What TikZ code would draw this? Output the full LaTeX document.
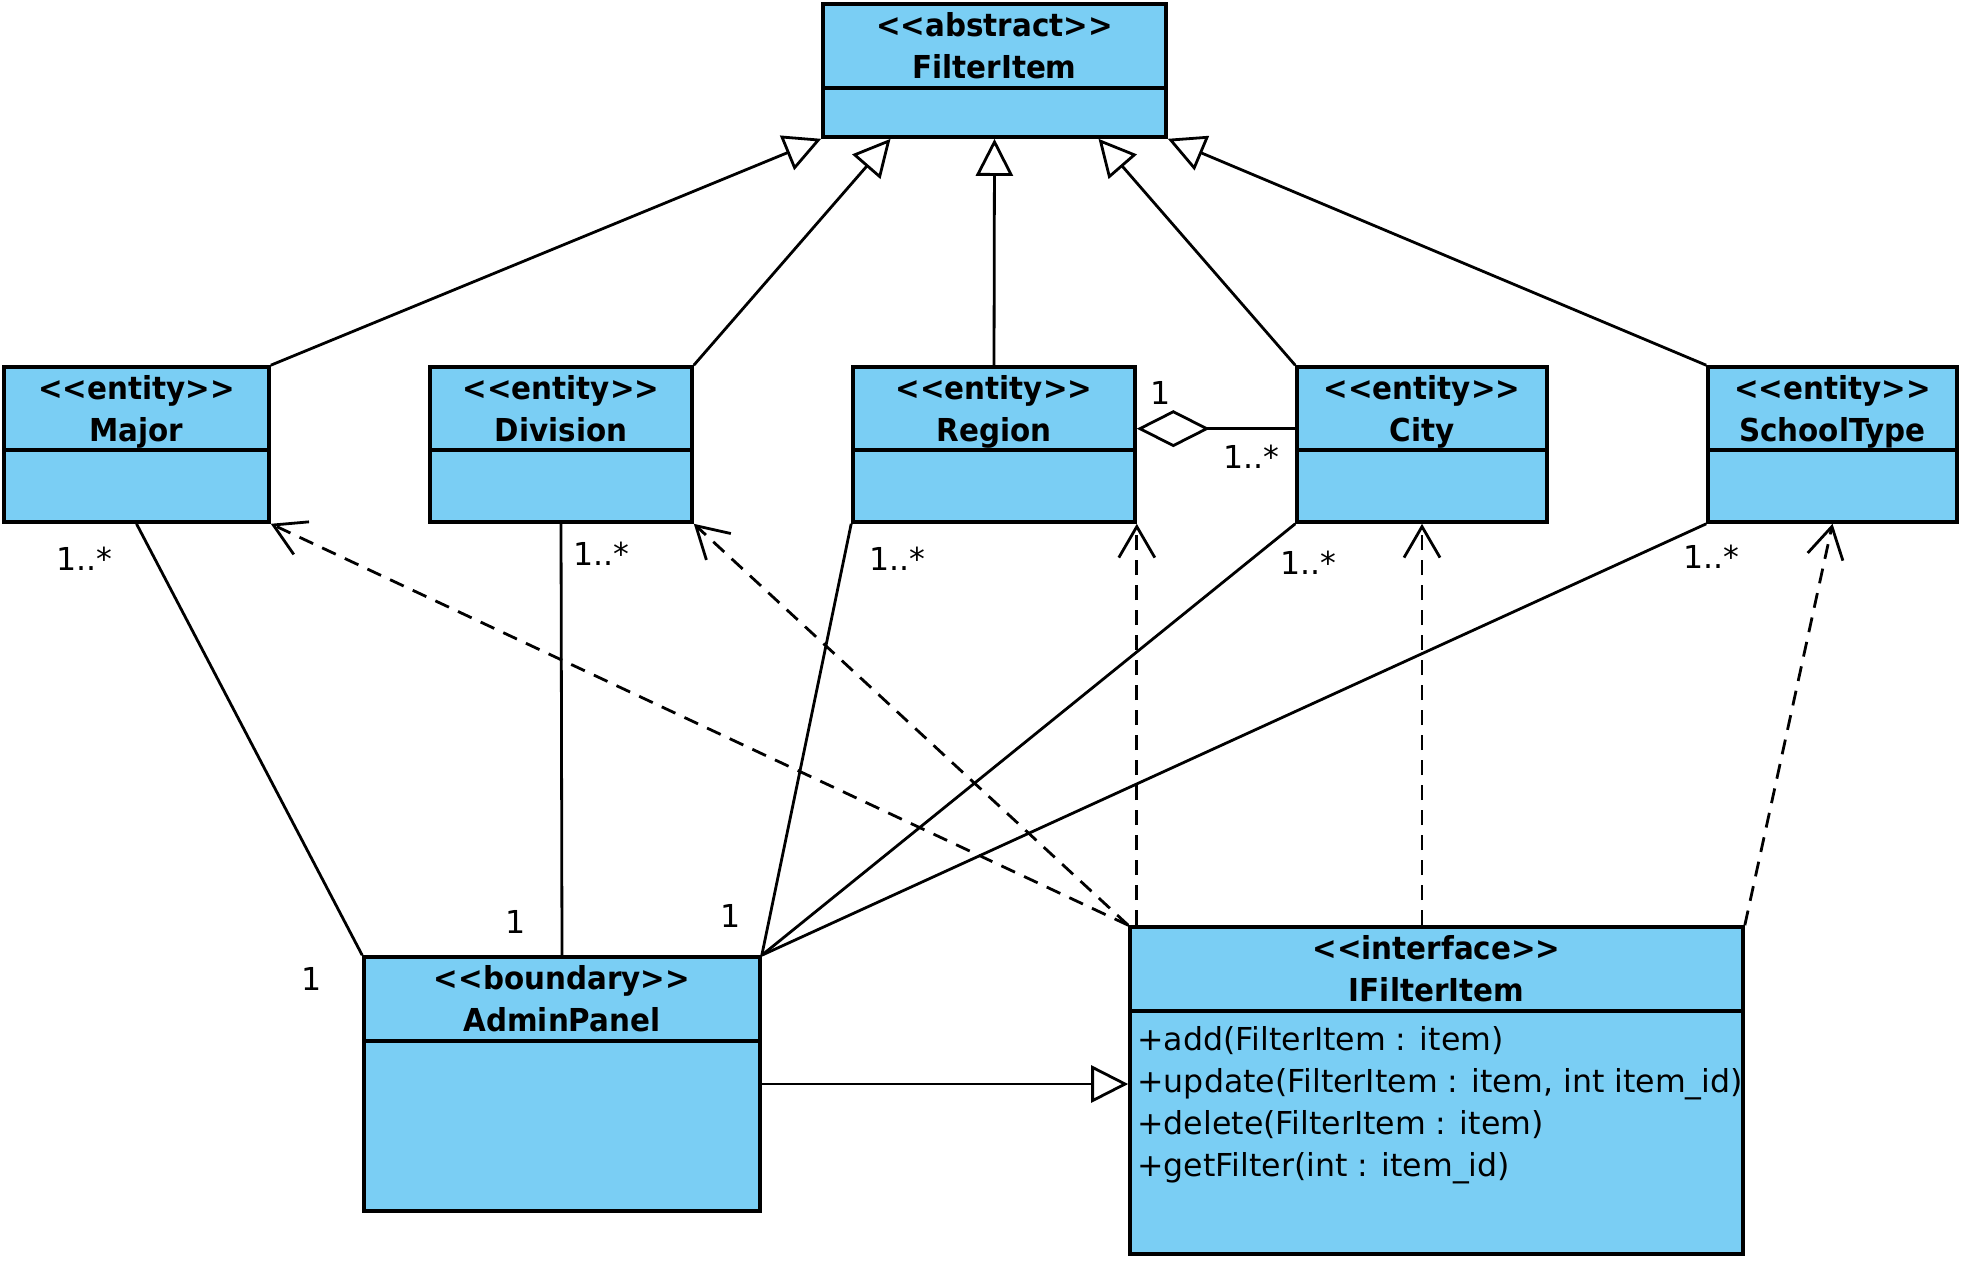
\documentclass[tikz,border=0pt]{standalone}
\usepackage{fontspec}
\setmainfont{DejaVu Sans}[BoldFeatures={FakeStretch=0.93}]
\usepackage{tikz}
\usetikzlibrary{calc}
\usetikzlibrary{arrows.meta}
\usetikzlibrary{fit}
\usetikzlibrary{positioning}

\definecolor{classblue}{RGB}{122,206,244}

\tikzset{
  classbox/.style={draw, line width=1.8pt, fill=classblue, inner sep=0pt},
  stereo/.style={anchor=base, inner sep=0pt, font=\fontsize{15.8}{18}\selectfont\bfseries},
  classname/.style={anchor=base, inner sep=0pt, font=\fontsize{15.8}{18}\selectfont\bfseries},
  method/.style={anchor=base west, inner sep=0pt, font=\fontsize{15.8}{18}\selectfont},
  mult/.style={inner sep=0pt, font=\fontsize{15.8}{18}\selectfont},
  gen/.style={line width=1.4pt, -{Triangle[open, length=18.5pt, width=18.5pt]}},
  dep/.style={line width=1.4pt, dash pattern=on 7.5pt off 5pt, -{Straight Barb[length=15.5pt, width=18pt]}},
  assoc/.style={line width=1.4pt},
  aggr/.style={line width=1.4pt, -{Diamond[open, length=36.5pt, width=18.5pt]}}
}

% name, x1, y1, x2, y2, divider, stereotype, class name
\newcommand{\umlclass}[8]{%
  \node[classbox, fit={(#2,#3) (#4,#5)}] (#1) {};
  \draw[line width=1.8pt] (#2,#6) -- (#4,#6);
  \node[stereo] (#1-st) at ($(#1.north)+(0,34)$) {<{}<#7>{}>};
  \node[classname] (#1-nm) at ($(#1.north)+(0,76)$) {#8};
}

\begin{document}
\begin{tikzpicture}[x=0.5pt, y=-0.5pt]
  \useasboundingbox (0,0) rectangle (1962,1260);

  % classes
  \umlclass{filteritem}{823}{4}{1166}{137}{88}{abstract}{FilterItem}
  \umlclass{major}{4}{367}{269}{522}{450}{entity}{Major}
  \umlclass{division}{430}{367}{692}{522}{450}{entity}{Division}
  \umlclass{region}{853}{367}{1135}{522}{450}{entity}{Region}
  \umlclass{city}{1297}{367}{1547}{522}{450}{entity}{City}
  \umlclass{schooltype}{1708}{367}{1957}{522}{450}{entity}{SchoolType}
  \umlclass{admin}{364}{957}{760}{1211}{1041}{boundary}{AdminPanel}
  \umlclass{ifilter}{1130}{927}{1743}{1254}{1011}{interface}{IFilterItem}

  \node[method] (op-add) at (1137,1050) {+add(FilterItem : item)};
  \node[method] (op-update) at (1137,1092) {+update(FilterItem : item, int item\_id)};
  \node[method] (op-delete) at (1137,1134) {+delete(FilterItem : item)};
  \node[method] (op-get) at (1137,1176) {+getFilter(int : item\_id)};

  % generalizations
  \draw[gen] (major.north east) -- (filteritem.south west);
  \draw[gen] (division.north east) -- ($(filteritem.south west)!0.2!(filteritem.south east)$);
  \draw[gen] (region.north) -- (filteritem.south);
  \draw[gen] (city.north west) -- ($(filteritem.south west)!0.8!(filteritem.south east)$);
  \draw[gen] (schooltype.north west) -- (filteritem.south east);
  \draw[gen] (admin.east) -- (admin.east -| ifilter.west);

  % aggregation
  \draw[aggr] ($(city.north west)!0.4!(city.south west)$) -- ($(region.north east)!0.4!(region.south east)$);
  \node[mult] (agg-one) at (1161,393) {1};
  \node[mult] (agg-many) at (1251,457) {1..*};

  % associations
  \draw[assoc] (major.south) -- (admin.north west);
  \draw[assoc] (division.south) -- (admin.north);
  \draw[assoc] (region.south west) -- (admin.north east);
  \draw[assoc] (city.south west) -- (admin.north east);
  \draw[assoc] (schooltype.south west) -- (admin.north east);

  \node[mult] (major-many) at (84,559) {1..*};
  \node[mult] (major-one) at (312,979) {1};
  \node[mult] (division-many) at (601,554) {1..*};
  \node[mult] (division-one) at (516,922) {1};
  \node[mult] (region-many) at (897,559) {1..*};
  \node[mult] (region-one) at (731,916) {1};
  \node[mult] (city-many) at (1308,563) {1..*};
  \node[mult] (schooltype-many) at (1711,557) {1..*};

  % dependencies
  \draw[dep] (ifilter.north west) -- (major.south east);
  \draw[dep] (ifilter.north west) -- (division.south east);
  \draw[dep] (region.south east |- ifilter.north) -- (region.south east);
  \draw[dep] (city.south |- ifilter.north) -- (city.south);
  \draw[dep] (ifilter.north east) -- (schooltype.south);
\end{tikzpicture}
\end{document}
